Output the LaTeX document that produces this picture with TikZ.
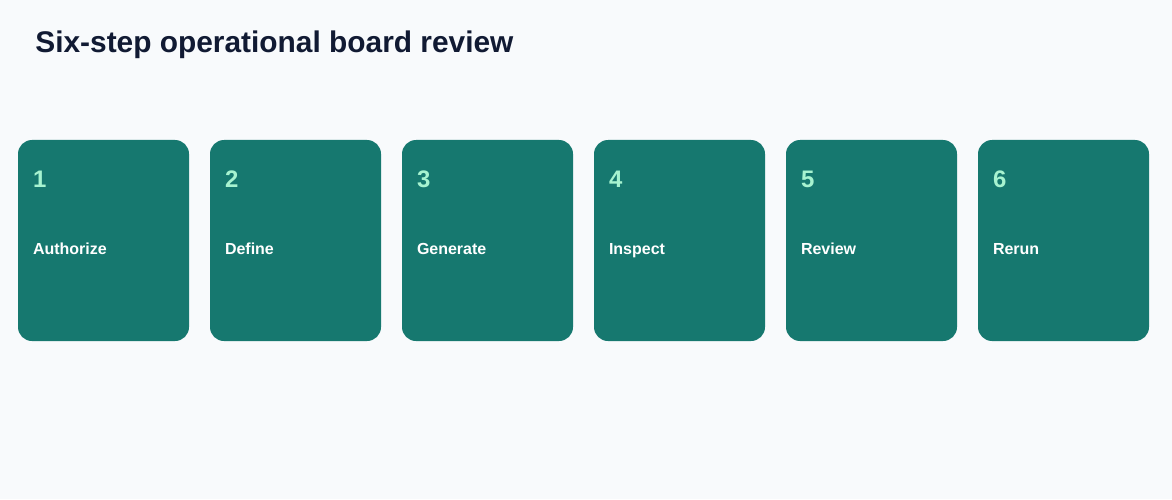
\documentclass[tikz,border=0pt]{standalone}
\usepackage{fontspec}
\setmainfont{Liberation Sans}
\usetikzlibrary{calc}

\begin{document}
\begin{tikzpicture}
    \definecolor{bg}{HTML}{F8FAFC}
    \definecolor{ink}{HTML}{111A33}
    \definecolor{teal}{HTML}{16786F}
    \definecolor{mint}{HTML}{A7F3D0}

    \path[fill=bg] (0,0) rectangle (23.44,9.98);
    \useasboundingbox (0,0) rectangle (23.44,9.98);

    \tikzset{
        card/.style={fill=teal, rounded corners=0.28cm, minimum width=3.42cm, minimum height=4.02cm, inner sep=0pt},
        num/.style={anchor=base west, inner sep=0pt, text=mint, font=\fontsize{13.6}{16}\selectfont\bfseries},
        word/.style={anchor=base west, inner sep=0pt, text=white, font=\fontsize{9.1}{11}\selectfont\bfseries}
    }

    \node[anchor=base west, inner sep=0pt, text=ink, font=\fontsize{17}{20}\selectfont\bfseries] (title) at (0.70,8.92) {Six-step operational board review};

    \node[card] (c1) at (2.07,5.17) {};
    \node[card] (c2) at (5.91,5.17) {};
    \node[card] (c3) at (9.75,5.17) {};
    \node[card] (c4) at (13.59,5.17) {};
    \node[card] (c5) at (17.43,5.17) {};
    \node[card] (c6) at (21.27,5.17) {};

    \node[num] (n1) at ($ (c1.north west) + (0.30,-0.96) $) {1};
    \node[num] (n2) at ($ (c2.north west) + (0.30,-0.96) $) {2};
    \node[num] (n3) at ($ (c3.north west) + (0.30,-0.96) $) {3};
    \node[num] (n4) at ($ (c4.north west) + (0.30,-0.96) $) {4};
    \node[num] (n5) at ($ (c5.north west) + (0.30,-0.96) $) {5};
    \node[num] (n6) at ($ (c6.north west) + (0.30,-0.96) $) {6};

    \node[word] (w1) at ($ (c1.north west) + (0.30,-2.30) $) {Authorize};
    \node[word] (w2) at ($ (c2.north west) + (0.30,-2.30) $) {Define};
    \node[word] (w3) at ($ (c3.north west) + (0.30,-2.30) $) {Generate};
    \node[word] (w4) at ($ (c4.north west) + (0.30,-2.30) $) {Inspect};
    \node[word] (w5) at ($ (c5.north west) + (0.30,-2.30) $) {Review};
    \node[word] (w6) at ($ (c6.north west) + (0.30,-2.30) $) {Rerun};

\end{tikzpicture}
\end{document}
